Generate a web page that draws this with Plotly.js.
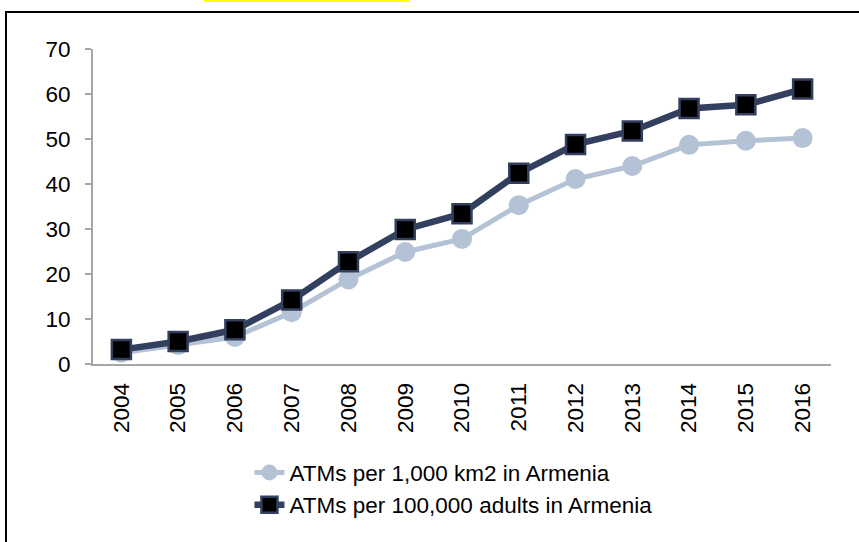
<!DOCTYPE html>
<html>
<head>
<meta charset="utf-8">
<script src="https://cdn.plot.ly/plotly-3.0.1.min.js"></script>
<style>
  html, body { margin: 0; padding: 0; background: #ffffff; }
  #wrap { position: relative; width: 859px; height: 542px; overflow: hidden; }
  #chart { position: absolute; left: 0; top: 0; width: 859px; height: 542px; }
  #frame { position: absolute; left: 5px; top: 11px; width: 860px; height: 540px;
           border-top: 2px solid #000; border-left: 2px solid #000; pointer-events: none; }
  #hl { position: absolute; left: 204px; top: 0; width: 206px; height: 2px; background: #ffff00; }
</style>
</head>
<body>
<div id="wrap">
  <div id="chart"></div>
  <div id="frame"></div>
  <div id="hl"></div>
</div>
<script>
const years = ['2004','2005','2006','2007','2008','2009','2010','2011','2012','2013','2014','2015','2016'];
const atmsPerKm2 = [2.5, 4.2, 6.0, 11.5, 18.8, 24.9, 27.8, 35.3, 41.1, 44.0, 48.7, 49.6, 50.2];
const atmsPerAdults = [3.2, 5.0, 7.6, 14.2, 22.7, 29.9, 33.4, 42.4, 48.8, 51.8, 56.8, 57.6, 61.1];
const seriesNames = ['ATMs per 1,000 km2 in Armenia', 'ATMs per 100,000 adults in Armenia'];
const yTicks = [0, 10, 20, 30, 40, 50, 60, 70];

const font = 'Arial, "Liberation Sans", sans-serif';

const traces = [
  {
    x: years, y: atmsPerKm2, name: seriesNames[0], type: 'scatter', mode: 'lines+markers',
    line: { color: '#b4c2d5', width: 5 },
    marker: { symbol: 'circle', size: 20, color: '#b4c2d5', line: { width: 0 } },
    cliponaxis: false
  },
  {
    x: years, y: atmsPerAdults, name: seriesNames[1], type: 'scatter', mode: 'lines+markers',
    line: { color: '#333f5e', width: 6.5 },
    marker: { symbol: 'square', size: 19, color: '#000000', line: { color: '#333f5e', width: 2.5 } },
    cliponaxis: false
  }
];

const layout = {
  width: 859, height: 542,
  margin: { l: 93, r: 28, t: 49, b: 178 },
  paper_bgcolor: '#ffffff', plot_bgcolor: '#ffffff',
  font: { family: font, size: 22.5, color: '#000000' },
  showlegend: true,
  legend: {
    orientation: 'v', x: 0.212, xanchor: 'left', y: -0.277, yanchor: 'top',
    font: { family: font, size: 22.5, color: '#000000' },
    bgcolor: 'rgba(0,0,0,0)', tracegroupgap: 0
  },
  xaxis: {
    type: 'category', range: [-0.5, 12.5],
    showline: true, linecolor: '#a6a6a6', linewidth: 2,
    showgrid: false, zeroline: false, ticks: '',
    tickangle: -90, tickfont: { family: font, size: 22.5, color: '#000' },
    ticklabelstandoff: 8
  },
  yaxis: {
    range: [0, 70], tickvals: yTicks, ticktext: yTicks.map(String),
    showline: true, linecolor: '#a6a6a6', linewidth: 2,
    showgrid: false, zeroline: false,
    ticks: 'outside', ticklen: 6, tickcolor: '#a6a6a6', tickwidth: 2,
    tickfont: { family: font, size: 22.5, color: '#000' },
    ticklabelstandoff: 10
  }
};

Plotly.newPlot('chart', traces, layout, { displayModeBar: false, staticPlot: true });
</script>
</body>
</html>
